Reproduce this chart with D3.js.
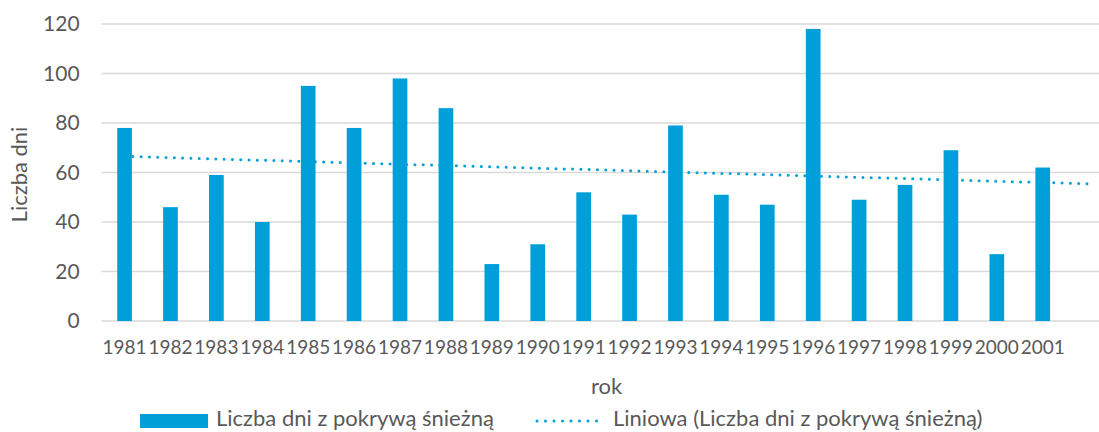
<!DOCTYPE html>
<html>
<head>
<meta charset="utf-8">
<script src="https://cdn.jsdelivr.net/npm/d3@7"></script>
<style>
    body { margin: 0; background: #fff; }
    svg { display: block; font-family: Lato, "Open Sans", sans-serif; }
    .tick text { fill: #595959; }
    .grid-line { stroke: #d9d9d9; stroke-width: 1.5; }
</style>
</head>
<body>
<svg></svg>
<script>
// dane
let years = ["1981", "1982", "1983", "1984", "1985", "1986", "1987", "1988", "1989", "1990", "1991",
    "1992", "1993", "1994", "1995", "1996", "1997", "1998", "1999", "2000", "2001"];
let snowDays = [78, 46, 59, 40, 95, 78, 98, 86, 23, 31, 52, 43, 79, 51, 47, 118, 49, 55, 69, 27, 62];
let yTicks = [0, 20, 40, 60, 80, 100, 120];
let seriesName = "Liczba dni z pokrywą śnieżną";
let trendName = "Liniowa (Liczba dni z pokrywą śnieżną)";
let forecastForward = 1; // linia trendu wydłużona o 1 okres

let width = 1099;
let height = 432;
let plotLeft = 101.6;
let plotRight = 1111.6; // obszar wykresu ucięty z prawej strony
let plotTop = 24;
let plotBottom = 321;
let barColor = "#009fda";
let textColor = "#595959";

let svg = d3.select("svg")
    .attr("width", width)
    .attr("height", height);

let slots = d3.range(years.length + forecastForward);

let scaleX = d3.scaleBand()
    .domain(slots)
    .range([plotLeft, plotRight]);

let scaleY = d3.scaleLinear()
    .domain([0, 120])
    .range([plotBottom, plotTop]);

// siatka pozioma
svg.append("g")
    .selectAll("line")
    .data(yTicks)
    .enter()
    .append("line")
    .classed("grid-line", true)
    .attr("x1", plotLeft)
    .attr("x2", plotRight)
    .attr("y1", d => scaleY(d))
    .attr("y2", d => scaleY(d));

// oś Y
let axisY = d3.axisLeft(scaleY).tickValues(yTicks).tickSize(0).tickPadding(22);
svg.append("g")
    .attr("transform", `translate(${plotLeft}, 0)`)
    .call(axisY)
    .call(g => g.select(".domain").remove())
    .selectAll("text")
    .style("font-size", "21px")
    .style("font-family", "Lato");

// oś X - tylko lata, bez slotu prognozy
let axisX = d3.axisBottom(scaleX)
    .tickValues(d3.range(years.length))
    .tickFormat(i => years[i])
    .tickSize(0)
    .tickPadding(20);
svg.append("g")
    .attr("transform", `translate(0, ${plotBottom})`)
    .call(axisX)
    .call(g => g.select(".domain").remove())
    .selectAll("text")
    .style("font-size", "19px")
    .style("font-family", "Lato");

// słupki
let barW = scaleX.bandwidth() * 0.32;
svg.append("g")
    .selectAll("rect")
    .data(snowDays)
    .enter()
    .append("rect")
    .attr("x", (d, i) => scaleX(i) + scaleX.bandwidth() / 2 - barW / 2)
    .attr("width", barW)
    .attr("y", d => scaleY(d))
    .attr("height", d => scaleY(0) - scaleY(d))
    .attr("fill", barColor);

// linia trendu - regresja liniowa
let n = snowDays.length;
let meanX = d3.mean(d3.range(n));
let meanY = d3.mean(snowDays);
let sxy = d3.sum(snowDays, (d, i) => (i - meanX) * (d - meanY));
let sxx = d3.sum(d3.range(n), i => (i - meanX) * (i - meanX));
let slope = sxy / sxx;
let intercept = meanY - slope * meanX;
let trendPts = [0, n - 1 + forecastForward].map(i => [i, intercept + slope * i]);

let line = d3.line()
    .x(d => scaleX(d[0]) + scaleX.bandwidth() / 2)
    .y(d => scaleY(d[1]));

svg.append("path")
    .datum(trendPts)
    .attr("d", line)
    .attr("fill", "none")
    .attr("stroke", barColor)
    .attr("stroke-width", 3)
    .attr("stroke-linecap", "round")
    .attr("stroke-dasharray", "0 8.3");

// tytuły osi
svg.append("text")
    .attr("transform", `translate(27, ${(plotTop + plotBottom) / 2 + 2}) rotate(-90)`)
    .attr("text-anchor", "middle")
    .attr("fill", textColor)
    .style("font-size", "22px")
    .text("Liczba dni");

svg.append("text")
    .attr("x", (plotLeft + plotRight) / 2)
    .attr("y", 394)
    .attr("text-anchor", "middle")
    .attr("fill", textColor)
    .style("font-size", "22px")
    .text("rok");

// legenda
let legend = svg.append("g");
legend.append("rect")
    .attr("x", 140)
    .attr("y", 414)
    .attr("width", 68)
    .attr("height", 14)
    .attr("fill", barColor);
legend.append("text")
    .attr("x", 216)
    .attr("y", 426)
    .attr("fill", textColor)
    .style("font-size", "22px")
    .text(seriesName);
legend.append("line")
    .attr("x1", 537)
    .attr("x2", 605)
    .attr("y1", 421)
    .attr("y2", 421)
    .attr("stroke", barColor)
    .attr("stroke-width", 3)
    .attr("stroke-linecap", "round")
    .attr("stroke-dasharray", "0 8.5");
legend.append("text")
    .attr("x", 613)
    .attr("y", 426)
    .attr("fill", textColor)
    .style("font-size", "22px")
    .text(trendName);
</script>
</body>
</html>
